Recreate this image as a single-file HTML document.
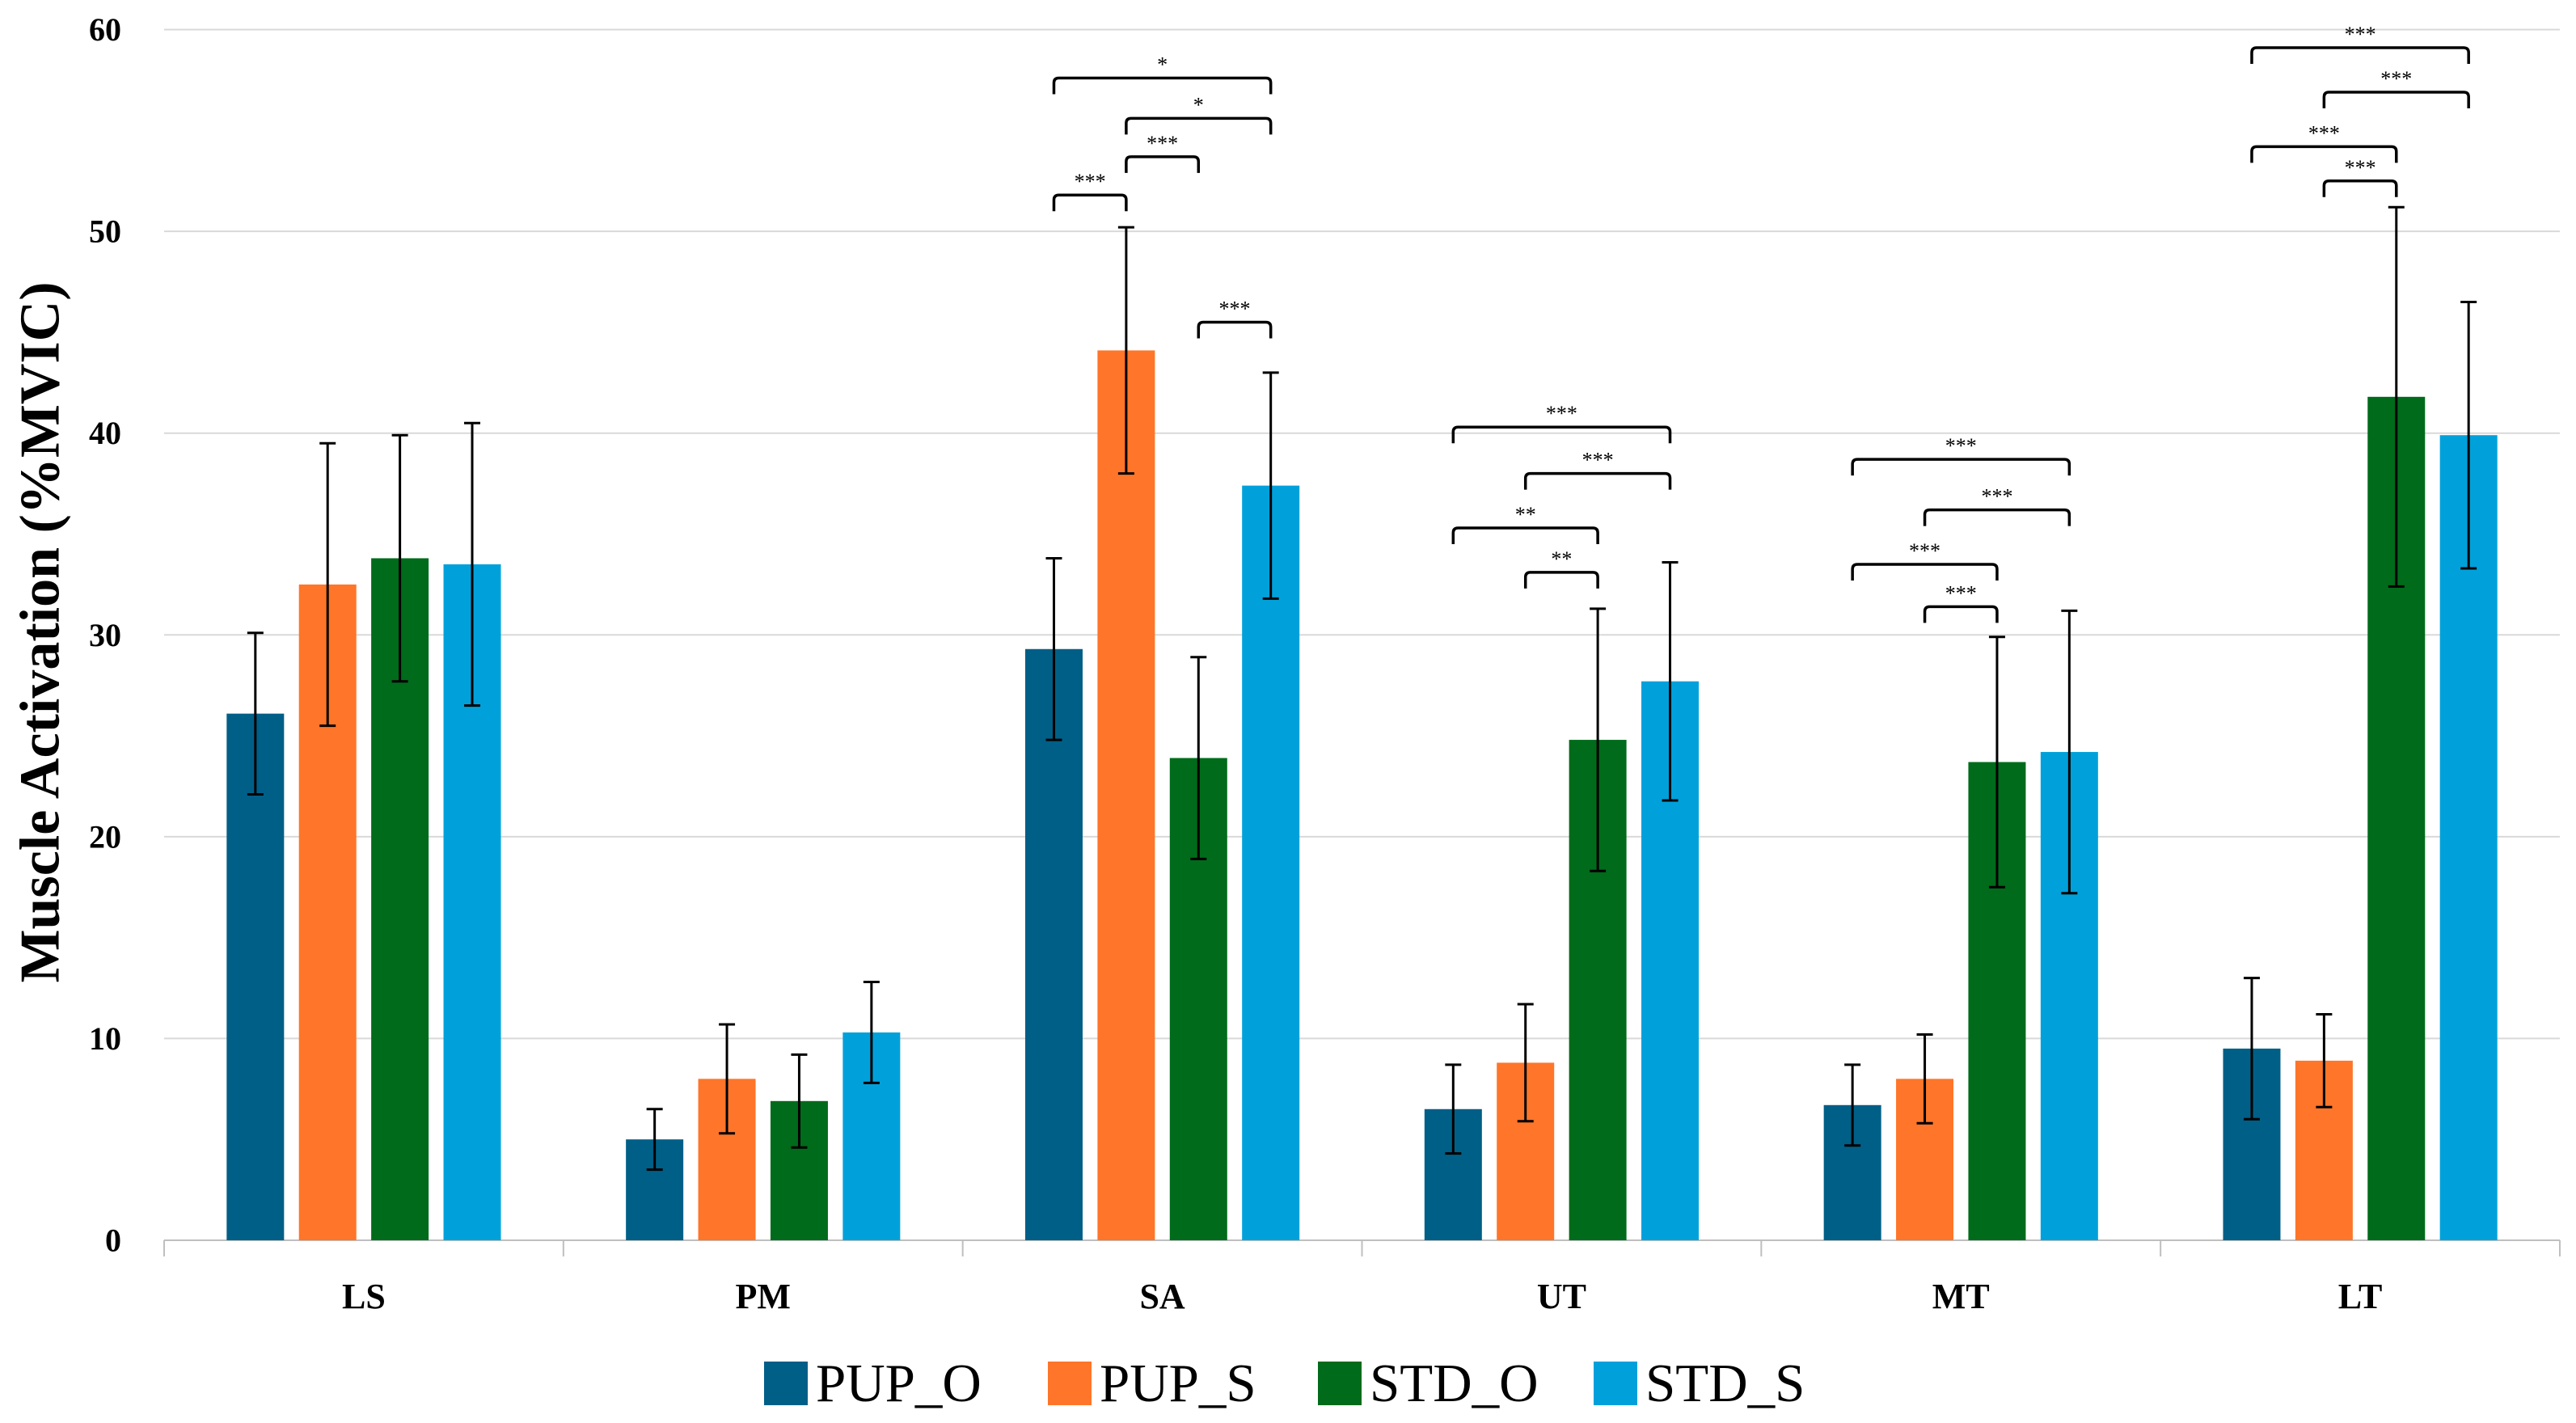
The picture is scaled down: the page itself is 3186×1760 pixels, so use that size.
<!DOCTYPE html>
<html><head><meta charset="utf-8"><style>
html,body{margin:0;padding:0;background:#fff}
svg{display:block;font-family:"Liberation Serif",serif}
</style></head><body>
<svg id="chart" width="3186" height="1760" viewBox="0 0 3186 1760" xmlns="http://www.w3.org/2000/svg">
<g id="grid"></g>
<g id="axes"></g>
<g id="bars"></g>
<g id="errs"></g>
<g id="sig"></g>
<text x="50" y="782" transform="rotate(-90 50 782)" text-anchor="middle" dominant-baseline="central" font-size="70" font-weight="bold" fill="#000">Muscle Activation (%MVIC)</text>
<g id="legend"></g>
</svg>
<script>
const categories = ["LS","PM","SA","UT","MT","LT"];
const seriesNames = ["PUP_O","PUP_S","STD_O","STD_S"];
const colors = ["#005f87","#ff7529","#006b1a","#00a1db"];
const pupO = [26.1, 5.0, 29.3, 6.5, 6.7, 9.5];
const pupS = [32.5, 8.0, 44.1, 8.8, 8.0, 8.9];
const stdO = [33.8, 6.9, 23.9, 24.8, 23.7, 41.8];
const stdS = [33.5, 10.3, 37.4, 27.7, 24.2, 39.9];
const pupOErr = [4.0, 1.5, 4.5, 2.2, 2.0, 3.5];
const pupSErr = [7.0, 2.7, 6.1, 2.9, 2.2, 2.3];
const stdOErr = [6.1, 2.3, 5.0, 6.5, 6.2, 9.4];
const stdSErr = [7.0, 2.5, 5.6, 5.9, 7.0, 6.6];
const yTicks = [0,10,20,30,40,50,60];
// significance: [categoryIndex, barA, barB, level, label]
const sigCat = [2,2,2,2,2, 3,3,3,3, 4,4,4,4, 5,5,5,5];
const sigA   = [0,1,1,0,2, 0,1,0,1, 0,1,0,1, 0,1,0,1];
const sigB   = [1,2,3,3,3, 3,3,2,2, 3,3,2,2, 3,3,2,2];
const sigLvl = [51.8,53.7,55.6,57.6,45.5, 40.3,38.0,35.3,33.1, 38.7,36.2,33.5,31.4, 59.1,56.9,54.2,52.5];
const sigLbl = ["***","***","*","*","***", "***","***","**","**", "***","***","***","***", "***","***","***","***"];

const NS="http://www.w3.org/2000/svg";
const L=203,R=3166,Y0=1534,Y60=36.6;
const y=v=>Y0-v*(Y0-Y60)/60;
const cw=(R-L)/categories.length;
const cx=i=>L+cw*(i+0.5);
const bx=(i,s)=>cx(i)+(s-1.5)*89.4;
const BW=71;
function mk(tag,attrs,parent){const e=document.createElementNS(NS,tag);for(const k in attrs)e.setAttribute(k,attrs[k]);parent.appendChild(e);return e;}
const G=id=>document.getElementById(id);
yTicks.forEach(t=>{
  if(t>0){const l=mk("line",{x1:L,x2:R,y1:y(t),y2:y(t),stroke:"#d9d9d9","stroke-width":2},G("grid"));
  
  }
  const tx=mk("text",{x:150,y:y(t),"text-anchor":"end","dominant-baseline":"central","font-size":40,"font-weight":"bold"},G("axes"));
  tx.textContent=t;
  
  
});
const ax=mk("line",{x1:L,x2:R,y1:Y0,y2:Y0,stroke:"#bfbfbf","stroke-width":2},G("axes"));


for(let i=0;i<=categories.length;i++){
  const tk=mk("line",{x1:L+cw*i,x2:L+cw*i,y1:Y0,y2:Y0+20,stroke:"#bfbfbf","stroke-width":2},G("axes"));
  
  
}
categories.forEach((c,i)=>{
  const t=mk("text",{x:cx(i),y:1618,"text-anchor":"middle","font-size":44,"font-weight":"bold"},G("axes"));
  t.textContent=c;
  
  
});
const vals=[pupO,pupS,stdO,stdS],errs=[pupOErr,pupSErr,stdOErr,stdSErr];
vals.forEach((arr,s)=>arr.forEach((v,i)=>{
  const r=mk("rect",{x:bx(i,s)-BW/2,y:y(v),width:BW,height:Y0-y(v),fill:colors[s]},G("bars"));
  
  
  const e=errs[s][i],x=bx(i,s);
  const p=mk("path",{d:`M${x},${y(v+e)}V${y(v-e)}M${x-10},${y(v+e)}H${x+10}M${x-10},${y(v-e)}H${x+10}`,stroke:"#000","stroke-width":3,fill:"none"},G("errs"));
  
  
}));
sigCat.forEach((c,k)=>{
  const x1=bx(c,sigA[k]),x2=bx(c,sigB[k]),yy=y(sigLvl[k]);
  const p=mk("path",{d:`M${x1},${yy+20}V${yy+6}Q${x1},${yy} ${x1+6},${yy}H${x2-6}Q${x2},${yy} ${x2},${yy+6}V${yy+20}`,stroke:"#000","stroke-width":3.5,fill:"none"},G("sig"));
  
  
  const t=mk("text",{x:(x1+x2)/2,y:yy-8,"text-anchor":"middle","font-size":26},G("sig"));
  t.textContent=sigLbl[k];
  
  
});
const lx=[945,1296,1630,1971];
seriesNames.forEach((n,s)=>{
  const r=mk("rect",{x:lx[s],y:1684,width:54,height:54,fill:colors[s]},G("legend"));
  
  
  const t=mk("text",{x:lx[s]+64,y:1711,"dominant-baseline":"central","font-size":67},G("legend"));
  t.textContent=n;
  
  
});
</script>
</body></html>
